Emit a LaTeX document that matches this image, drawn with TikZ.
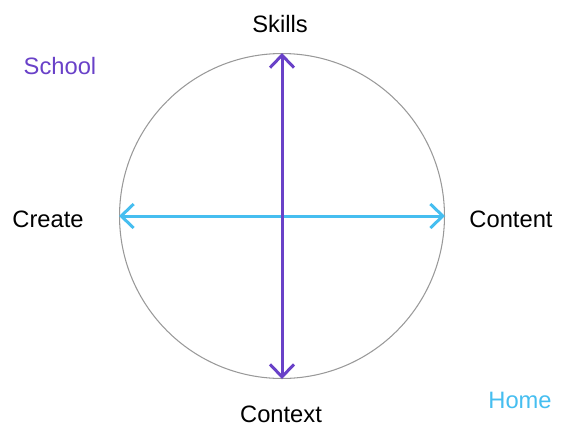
\documentclass[tikz,border=0pt]{standalone}
\usepackage{fontspec}
\setmainfont{Liberation Sans}
\usetikzlibrary{arrows.meta}
\definecolor{skillpurple}{RGB}{105,65,200}
\definecolor{homecyan}{RGB}{70,190,240}

\begin{document}
\begin{tikzpicture}[x=0.02cm, y=-0.02cm, >={Straight Barb[length=2.5mm,width=4.8mm]},
  lbl/.style={font=\fontsize{13.5}{16}\selectfont, inner sep=0pt}]
\useasboundingbox (0,0) rectangle (563,430);
\node (ring) [draw=gray!80, line width=0.6pt, circle, minimum size=6.5cm, inner sep=0pt] at (282,216) {};

\node (skills) [lbl] at (280,24) {Skills};
\node (school) [lbl, text=skillpurple] at (60,66) {School};
\node (create) [lbl] at (48,219) {Create};
\node (content) [lbl] at (511,219) {Content};
\node (context) [lbl] at (281,414) {Context};
\node (home) [lbl, text=homecyan] at (520,400) {Home};

\draw[<->, line width=1.7pt, homecyan] (ring.west) -- (ring.east);
\draw[<->, line width=1.7pt, skillpurple] (ring.north) -- (ring.south);

\end{tikzpicture}
\end{document}
